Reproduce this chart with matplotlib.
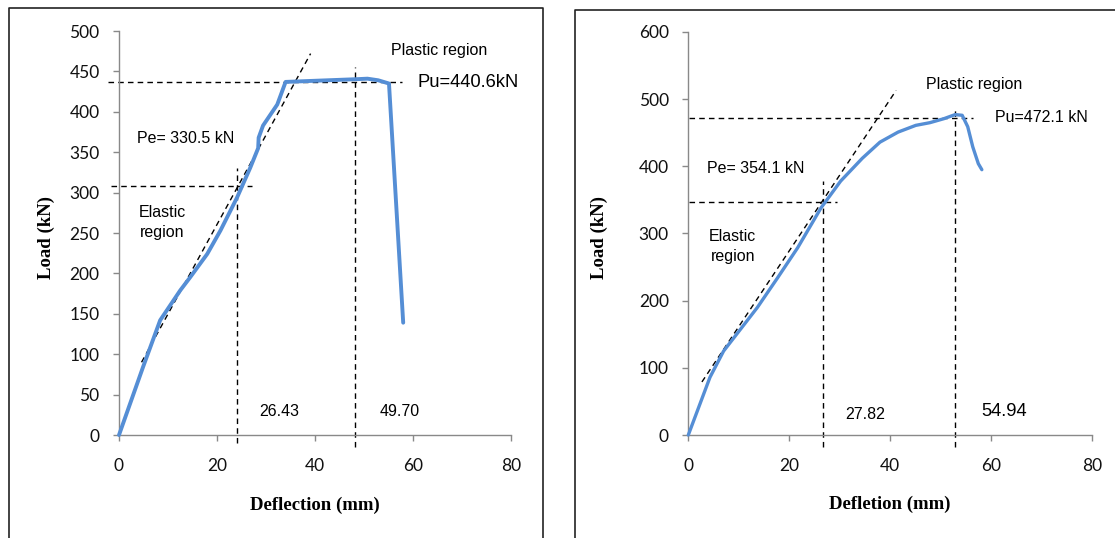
import matplotlib
matplotlib.use("Agg")
import matplotlib.pyplot as plt
from matplotlib.lines import Line2D

plt.rcParams["font.family"] = ["Lato", "DejaVu Sans"]

# ---- data ----
# left specimen
left_x = [0, 4.9, 8.4, 12.5, 14.5, 18.0, 20.7, 24.1, 26.8, 28.4, 28.5,
          29.4, 32.3, 34.0, 48.6, 50.7, 52.9, 55.1, 58.0]
left_y = [0, 84, 142, 179, 195, 224, 253, 294, 331, 355, 368,
          383, 409, 437, 440.4, 441, 439, 435, 139]
left_tangent_x = [4.6, 39.1]
left_tangent_y = [90, 472]
left_pu_y = 437
left_pe_y = 308
left_dy = [24.0, 48.1]
left_dy_top = [330, 455]
left_dy_labels = ["26.43", "49.70"]

# right specimen
right_x = [0, 2.3, 4.3, 7.0, 10.3, 13.7, 17.7, 21.7, 26.3, 30.2, 34.5, 38.0,
           41.6, 45.1, 47.9, 50.7, 52.9, 54.3, 55.4, 56.4, 57.5, 58.2]
right_y = [0, 46, 86, 125, 157, 190, 234, 279, 338, 378, 412, 436,
           451, 461, 465, 471, 477, 476, 459, 429, 404, 395]
right_tangent_x = [2.7, 41.2]
right_tangent_y = [79, 513]
right_pu_y = 472.6
right_pe_y = 347
right_dy = [26.7, 52.9]
right_dy_top = [378, 486]
right_dy_labels = ["27.82", "54.94"]

x_ticks = [0, 20, 40, 60, 80]

W, H = 1115, 538
fig = plt.figure(figsize=(W / 100, H / 100), dpi=100)

# outer frames of the two pictures
def frame(x0, x1, y0, right=True):
    xs = [x0, x0, x1] + ([x1] if right else [])
    ys = [H + 5, y0, y0] + ([H + 5] if right else [])
    fig.add_artist(Line2D([x / W for x in xs], [1 - y / H for y in ys],
                          color="#222222", lw=1.2))

frame(9, 543, 8)
frame(575, W + 10, 10, right=False)

ax1 = fig.add_axes([119 / W, 1 - 435 / H, 392 / W, 404 / H])
ax2 = fig.add_axes([688.3 / W, 1 - 435 / H, 403.5 / W, 403 / H])

blue = "#558ED5"
dash = (0, (4, 3))
ann = ["Liberation Sans Narrow", "Liberation Sans"]


def style(ax, ymax, ystep, xlabel, ylab_x):
    ax.set_xlim(0, 80)
    ax.set_ylim(0, ymax)
    ax.set_xticks(x_ticks)
    ax.set_yticks(range(0, ymax + 1, ystep))
    for s in ["top", "right"]:
        ax.spines[s].set_visible(False)
    for s in ["left", "bottom"]:
        ax.spines[s].set_color("#898989")
        ax.spines[s].set_linewidth(1.0)
    ax.tick_params(axis="x", direction="out", length=4.5, width=1, color="#898989",
                   labelsize=12.5, pad=12, labelcolor="#111111")
    ax.tick_params(axis="y", direction="out", length=4, width=1, color="#898989",
                   labelsize=12.5, pad=10, labelcolor="#111111")
    ax.set_xlabel(xlabel, family="Liberation Serif", weight="bold", fontsize=13.5,
                  va="center")
    ax.xaxis.set_label_coords(0.5, -70 / 404)
    ax.set_ylabel("Load (kN)", family="Liberation Serif", weight="bold", fontsize=13.5,
                  va="center")
    ax.yaxis.set_label_coords(ylab_x, 0.49)


# 左のグラフ
style(ax1, 500, 50, "Deflection (mm)", (46 - 119) / 392)
ax1.plot(left_tangent_x, left_tangent_y, color="k", lw=1, ls=dash)
ax1.plot([-2.3, 57.7], [left_pu_y, left_pu_y], color="k", lw=1, ls=dash, clip_on=False)
ax1.plot([-1.7, 27.1], [left_pe_y, left_pe_y], color="k", lw=1, ls=dash, clip_on=False)
for xv, top, bot in zip(left_dy, left_dy_top, [-10, -15]):
    ax1.plot([xv, xv], [bot, top], color="k", lw=1, ls=dash, clip_on=False)
ax1.plot(left_x, left_y, color=blue, lw=2.8, solid_joinstyle="round",
         solid_capstyle="round", clip_on=False, zorder=3)

ax1.text(55.5, 476, "Plastic region", family=ann, fontsize=11.5, va="center")
ax1.text(60.9, 436, "Pu=440.6kN", family=ann, fontsize=13.2, va="center")
ax1.text(3.7, 367.5, "Pe= 330.5 kN", family=ann, fontsize=11.5, va="center")
ax1.text(8.9, 263, "Elastic\nregion", family=ann, fontsize=11.5, va="center",
         ha="center", linespacing=1.4)
ax1.text(28.6, 28.6, left_dy_labels[0], family=ann, fontsize=11.5, va="center")
ax1.text(53.1, 28.6, left_dy_labels[1], family=ann, fontsize=11.5, va="center")

# 右のグラフ
style(ax2, 600, 100, "Defletion (mm)", (599 - 688.3) / 403.5)
ax2.plot(right_tangent_x, right_tangent_y, color="k", lw=1, ls=dash)
ax2.plot([0.2, 56.4], [right_pu_y, right_pu_y], color="k", lw=1, ls=dash, clip_on=False)
ax2.plot([0.2, 29.4], [right_pe_y, right_pe_y], color="k", lw=1, ls=dash, clip_on=False)
for xv, top in zip(right_dy, right_dy_top):
    ax2.plot([xv, xv], [-18, top], color="k", lw=1, ls=dash, clip_on=False)
ax2.plot(right_x, right_y, color=blue, lw=2.4, solid_joinstyle="round",
         solid_capstyle="round", clip_on=False, zorder=3)

ax2.text(47.1, 521.7, "Plastic region", family=ann, fontsize=11.5, va="center")
ax2.text(60.8, 472.6, "Pu=472.1 kN", family=ann, fontsize=11.5, va="center")
ax2.text(3.7, 396.7, "Pe= 354.1 kN", family=ann, fontsize=11.5, va="center")
ax2.text(8.8, 281, "Elastic\nregion", family=ann, fontsize=11.5, va="center",
         ha="center", linespacing=1.4)
ax2.text(31.1, 30.4, right_dy_labels[0], family=ann, fontsize=11.5, va="center")
ax2.text(58.0, 35.4, right_dy_labels[1], family=ann, fontsize=13.2, va="center")

plt.savefig("out.png", dpi=100)
